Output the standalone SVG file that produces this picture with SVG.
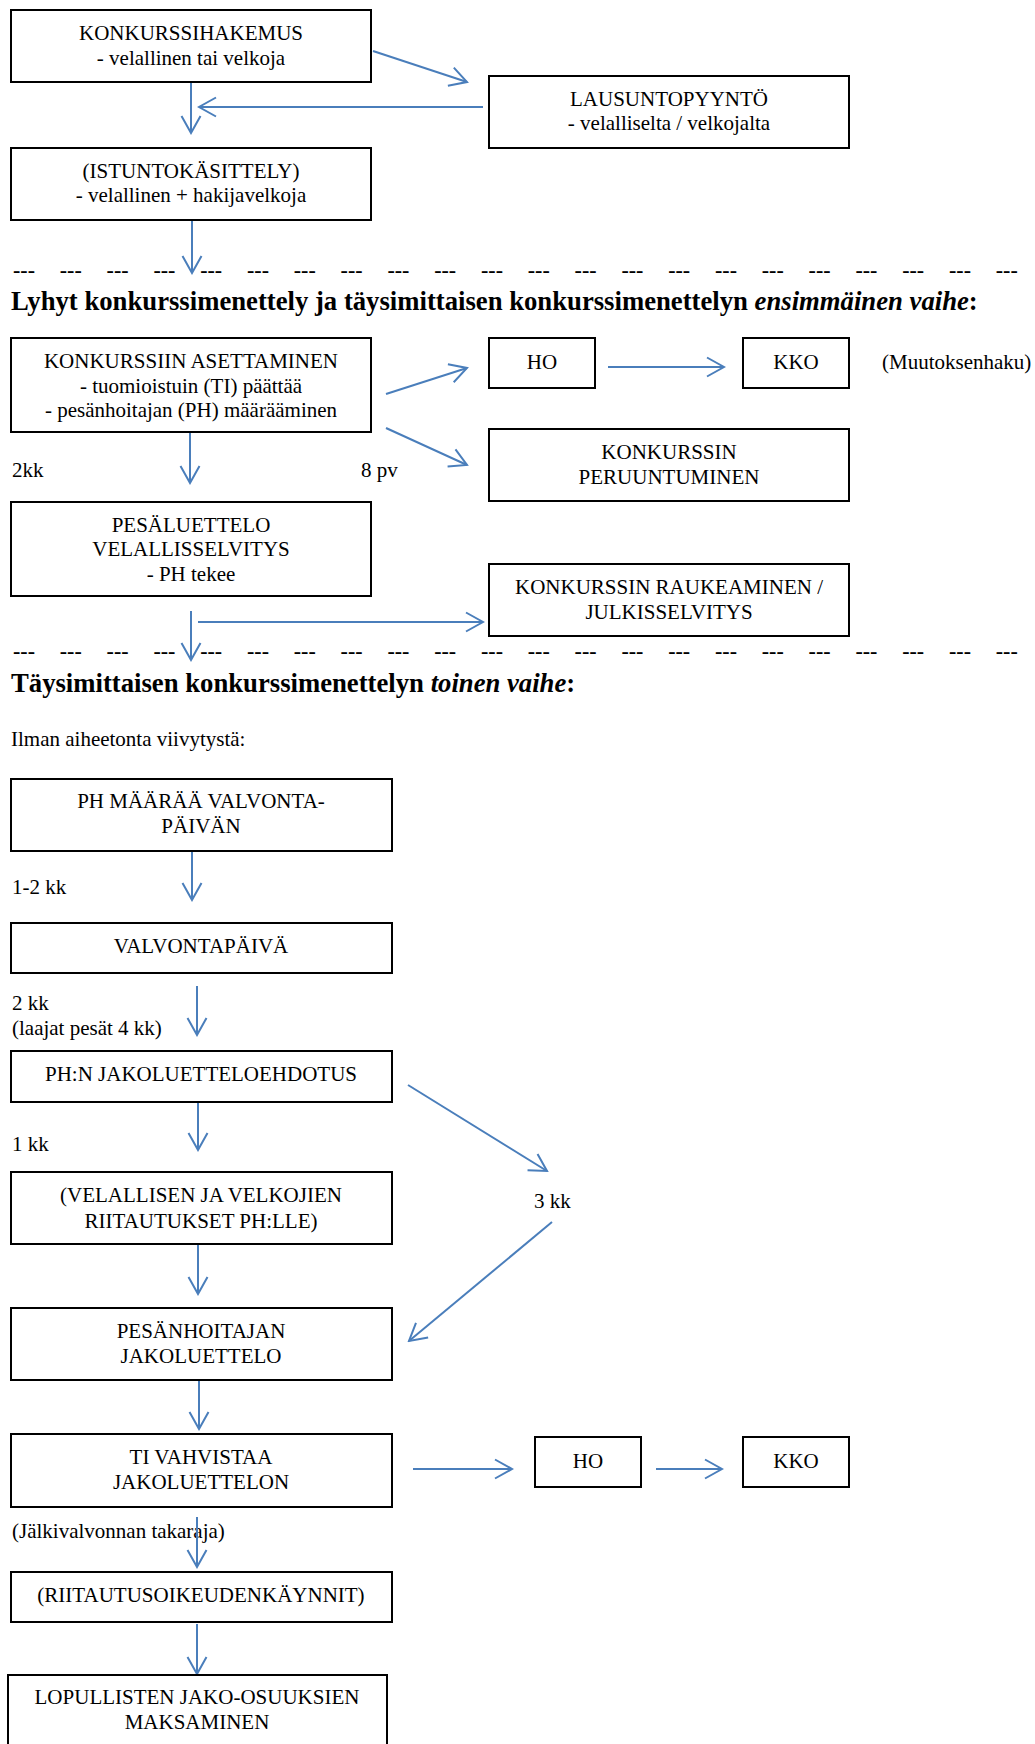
<svg xmlns="http://www.w3.org/2000/svg" width="1035" height="1744" viewBox="0 0 1035 1744">
<style>
  .box{fill:#fff;stroke:#000;stroke-width:2}
  .t{font-family:"Liberation Serif","Times New Roman",serif;font-size:21px;fill:#000}
  .c{text-anchor:middle}
  .h{font-family:"Liberation Serif","Times New Roman",serif;font-size:26.7px;font-weight:bold;fill:#000}
  .d{font-family:"Liberation Serif","Times New Roman",serif;font-size:22px;font-weight:bold;fill:#000}
  .a{fill:none;stroke:#4a7ebb;stroke-width:2;marker-end:url(#ah)}
</style>
<defs>
  <marker id="ah" viewBox="-20 -12 22 24" refX="0" refY="0" markerWidth="22" markerHeight="24" markerUnits="userSpaceOnUse" orient="auto">
    <path d="M-17,-9.5 L0,0 L-17,9.5" fill="none" stroke="#4a7ebb" stroke-width="2"/>
  </marker>
</defs>
<rect width="1035" height="1744" fill="#fff"/>

<!-- section separators and headings -->
<g id="separators">
  <text class="d" y="277"><tspan x="13">---</tspan><tspan x="59.8">---</tspan><tspan x="106.6">---</tspan><tspan x="153.4">---</tspan><tspan x="200.2">---</tspan><tspan x="247">---</tspan><tspan x="293.8">---</tspan><tspan x="340.6">---</tspan><tspan x="387.4">---</tspan><tspan x="434.2">---</tspan><tspan x="481">---</tspan><tspan x="527.8">---</tspan><tspan x="574.6">---</tspan><tspan x="621.4">---</tspan><tspan x="668.2">---</tspan><tspan x="715">---</tspan><tspan x="761.8">---</tspan><tspan x="808.6">---</tspan><tspan x="855.4">---</tspan><tspan x="902.2">---</tspan><tspan x="949">---</tspan><tspan x="995.8">---</tspan></text>
  <text class="d" y="658"><tspan x="13">---</tspan><tspan x="59.8">---</tspan><tspan x="106.6">---</tspan><tspan x="153.4">---</tspan><tspan x="200.2">---</tspan><tspan x="247">---</tspan><tspan x="293.8">---</tspan><tspan x="340.6">---</tspan><tspan x="387.4">---</tspan><tspan x="434.2">---</tspan><tspan x="481">---</tspan><tspan x="527.8">---</tspan><tspan x="574.6">---</tspan><tspan x="621.4">---</tspan><tspan x="668.2">---</tspan><tspan x="715">---</tspan><tspan x="761.8">---</tspan><tspan x="808.6">---</tspan><tspan x="855.4">---</tspan><tspan x="902.2">---</tspan><tspan x="949">---</tspan><tspan x="995.8">---</tspan></text>
  <text class="h" x="11" y="310">Lyhyt konkurssimenettely ja täysimittaisen konkurssimenettelyn <tspan font-style="italic">ensimmäinen vaihe</tspan>:</text>
  <text class="h" x="11" y="692">Täysimittaisen konkurssimenettelyn <tspan font-style="italic">toinen vaihe</tspan>:</text>
  <text class="t" x="11" y="746">Ilman aiheetonta viivytystä:</text>
</g>

<!-- labels -->
<g id="labels">
  <text class="t" x="882" y="369">(Muutoksenhaku)</text>
  <text class="t" x="12" y="477">2kk</text>
  <text class="t" x="361" y="477">8 pv</text>
  <text class="t" x="12" y="894">1-2 kk</text>
  <text class="t" x="12" y="1010">2 kk</text>
  <text class="t" x="12" y="1035">(laajat pesät 4 kk)</text>
  <text class="t" x="12" y="1151">1 kk</text>
  <text class="t" x="534" y="1208">3 kk</text>
  <text class="t" x="12" y="1538">(Jälkivalvonnan takaraja)</text>
</g>

<!-- connectors -->
<g id="connectors">
  <line class="a" x1="191" y1="82" x2="191" y2="133"/>
  <line class="a" x1="373" y1="51" x2="467" y2="82"/>
  <line class="a" x1="483" y1="107" x2="199" y2="107"/>
  <line class="a" x1="192" y1="220" x2="192" y2="273"/>
  <line class="a" x1="190" y1="432" x2="190" y2="483"/>
  <line class="a" x1="386" y1="394" x2="467" y2="368"/>
  <line class="a" x1="386" y1="428" x2="467" y2="465"/>
  <line class="a" x1="608" y1="367" x2="724" y2="367"/>
  <line class="a" x1="191" y1="611" x2="191" y2="660"/>
  <line class="a" x1="198" y1="622" x2="483" y2="622"/>
  <line class="a" x1="192" y1="851" x2="192" y2="900"/>
  <line class="a" x1="197" y1="986" x2="197" y2="1035"/>
  <line class="a" x1="198" y1="1102" x2="198" y2="1150"/>
  <line class="a" x1="408" y1="1085" x2="547" y2="1171"/>
  <line class="a" x1="552" y1="1222" x2="409" y2="1341"/>
  <line class="a" x1="198" y1="1244" x2="198" y2="1294"/>
  <line class="a" x1="199" y1="1380" x2="199" y2="1429"/>
  <line class="a" x1="413" y1="1469" x2="512" y2="1469"/>
  <line class="a" x1="656" y1="1469" x2="722" y2="1469"/>
  <line class="a" x1="197" y1="1517" x2="197" y2="1567"/>
  <line class="a" x1="197" y1="1624" x2="197" y2="1674"/>
</g>

<!-- nodes -->
<g id="n-hakemus">
  <rect class="box" x="11" y="10" width="360" height="72"/>
  <text class="t c" x="191" y="40">KONKURSSIHAKEMUS</text>
  <text class="t c" x="191" y="65">- velallinen tai velkoja</text>
</g>
<g id="n-lausunto">
  <rect class="box" x="489" y="76" width="360" height="72"/>
  <text class="t c" x="669" y="106">LAUSUNTOPYYNTÖ</text>
  <text class="t c" x="669" y="130">- velalliselta / velkojalta</text>
</g>
<g id="n-istunto">
  <rect class="box" x="11" y="148" width="360" height="72"/>
  <text class="t c" x="191" y="178">(ISTUNTOKÄSITTELY)</text>
  <text class="t c" x="191" y="202">- velallinen + hakijavelkoja</text>
</g>
<g id="n-asettaminen">
  <rect class="box" x="11" y="338" width="360" height="94"/>
  <text class="t c" x="191" y="368">KONKURSSIIN ASETTAMINEN</text>
  <text class="t c" x="191" y="393">- tuomioistuin (TI) päättää</text>
  <text class="t c" x="191" y="417">- pesänhoitajan (PH) määrääminen</text>
</g>
<g id="n-ho1">
  <rect class="box" x="489" y="338" width="106" height="50"/>
  <text class="t c" x="542" y="369">HO</text>
</g>
<g id="n-kko1">
  <rect class="box" x="743" y="338" width="106" height="50"/>
  <text class="t c" x="796" y="369">KKO</text>
</g>
<g id="n-peruuntuminen">
  <rect class="box" x="489" y="429" width="360" height="72"/>
  <text class="t c" x="669" y="459">KONKURSSIN</text>
  <text class="t c" x="669" y="484">PERUUNTUMINEN</text>
</g>
<g id="n-pesaluettelo">
  <rect class="box" x="11" y="502" width="360" height="94"/>
  <text class="t c" x="191" y="532">PESÄLUETTELO</text>
  <text class="t c" x="191" y="556">VELALLISSELVITYS</text>
  <text class="t c" x="191" y="581">- PH tekee</text>
</g>
<g id="n-raukeaminen">
  <rect class="box" x="489" y="564" width="360" height="72"/>
  <text class="t c" x="669" y="594">KONKURSSIN RAUKEAMINEN /</text>
  <text class="t c" x="669" y="619">JULKISSELVITYS</text>
</g>
<g id="n-maaraa">
  <rect class="box" x="11" y="779" width="381" height="72"/>
  <text class="t c" x="201" y="808">PH MÄÄRÄÄ VALVONTA-</text>
  <text class="t c" x="201" y="833">PÄIVÄN</text>
</g>
<g id="n-valvontapaiva">
  <rect class="box" x="11" y="923" width="381" height="50"/>
  <text class="t c" x="201" y="953">VALVONTAPÄIVÄ</text>
</g>
<g id="n-ehdotus">
  <rect class="box" x="11" y="1051" width="381" height="51"/>
  <text class="t c" x="201" y="1081">PH:N JAKOLUETTELOEHDOTUS</text>
</g>
<g id="n-riitautukset">
  <rect class="box" x="11" y="1172" width="381" height="72"/>
  <text class="t c" x="201" y="1202">(VELALLISEN JA VELKOJIEN</text>
  <text class="t c" x="201" y="1228">RIITAUTUKSET PH:LLE)</text>
</g>
<g id="n-jakoluettelo">
  <rect class="box" x="11" y="1308" width="381" height="72"/>
  <text class="t c" x="201" y="1338">PESÄNHOITAJAN</text>
  <text class="t c" x="201" y="1363">JAKOLUETTELO</text>
</g>
<g id="n-vahvistaa">
  <rect class="box" x="11" y="1434" width="381" height="73"/>
  <text class="t c" x="201" y="1464">TI VAHVISTAA</text>
  <text class="t c" x="201" y="1489">JAKOLUETTELON</text>
</g>
<g id="n-ho2">
  <rect class="box" x="535" y="1437" width="106" height="50"/>
  <text class="t c" x="588" y="1468">HO</text>
</g>
<g id="n-kko2">
  <rect class="box" x="743" y="1437" width="106" height="50"/>
  <text class="t c" x="796" y="1468">KKO</text>
</g>
<g id="n-oikeudenkaynnit">
  <rect class="box" x="11" y="1572" width="381" height="50"/>
  <text class="t c" x="201" y="1602">(RIITAUTUSOIKEUDENKÄYNNIT)</text>
</g>
<g id="n-maksaminen">
  <rect class="box" x="8" y="1675" width="379" height="72"/>
  <text class="t c" x="197" y="1704">LOPULLISTEN JAKO-OSUUKSIEN</text>
  <text class="t c" x="197" y="1729">MAKSAMINEN</text>
</g>
</svg>
